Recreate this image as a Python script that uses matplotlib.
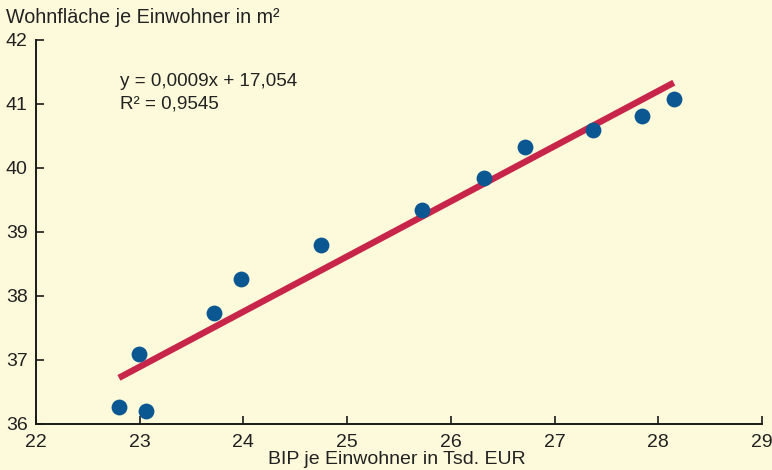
import numpy as np
import matplotlib.pyplot as plt

plt.rcParams['font.family'] = ['Liberation Sans', 'DejaVu Sans']

# Data: BIP je Einwohner (Tsd. EUR) vs. Wohnflaeche je Einwohner (m2)
bip = [22.80, 23.06, 22.99, 23.72, 23.98, 24.75, 25.72, 26.32, 26.72, 27.37, 27.84, 28.15]
flaeche = [36.27, 36.20, 37.09, 37.73, 38.27, 38.80, 39.34, 39.84, 40.33, 40.59, 40.81, 41.08]
x_ticks = [22, 23, 24, 25, 26, 27, 28, 29]
y_ticks = [36, 37, 38, 39, 40, 41, 42]

bg = '#fdfadb'
blue = '#0b5791'
red = '#c8254a'
txt = '#222222'

fig = plt.figure(figsize=(7.72, 4.70), dpi=100, facecolor=bg)
ax = fig.add_axes([0.0466, 0.098, 0.9404, 0.817], facecolor=bg)

# trend line
k, d = np.polyfit(bip, flaeche, 1)
xl = np.array([min(bip), max(bip)])
ax.plot(xl, k * xl + d, color=red, lw=4.6, solid_capstyle='butt', zorder=2)
ax.scatter(bip, flaeche, s=130, color=blue, zorder=3, linewidths=0)

ax.text(22.81, 41.35, 'y = 0,0009x + 17,054', fontsize=13.6, va='center', ha='left', color=txt)
ax.text(22.81, 41.0, 'R² = 0,9545', fontsize=13.6, va='center', ha='left', color=txt)

ax.set_xlim(22, 29)
ax.set_ylim(36, 42)
ax.set_xticks(x_ticks)
ax.set_yticks(y_ticks)
ax.spines['top'].set_visible(False)
ax.spines['right'].set_visible(False)
for s in ['left', 'bottom']:
    ax.spines[s].set_linewidth(1.4)
    ax.spines[s].set_color('#1a1a1a')
ax.tick_params(direction='in', length=6, width=1.2, colors='#1a1a1a', labelsize=14)
ax.tick_params(axis='y', pad=6)
ax.tick_params(axis='x', pad=7)
for lab in ax.get_xticklabels() + ax.get_yticklabels():
    lab.set_color(txt)

fig.text(0.008, 0.962, 'Wohnfläche je Einwohner in m²', fontsize=14.2, va='center', ha='left', color=txt)
fig.text(0.514, 0.004, 'BIP je Einwohner in Tsd. EUR', fontsize=14, va='bottom', ha='center', color=txt)

fig.savefig('out.png', dpi=100, facecolor=bg)
